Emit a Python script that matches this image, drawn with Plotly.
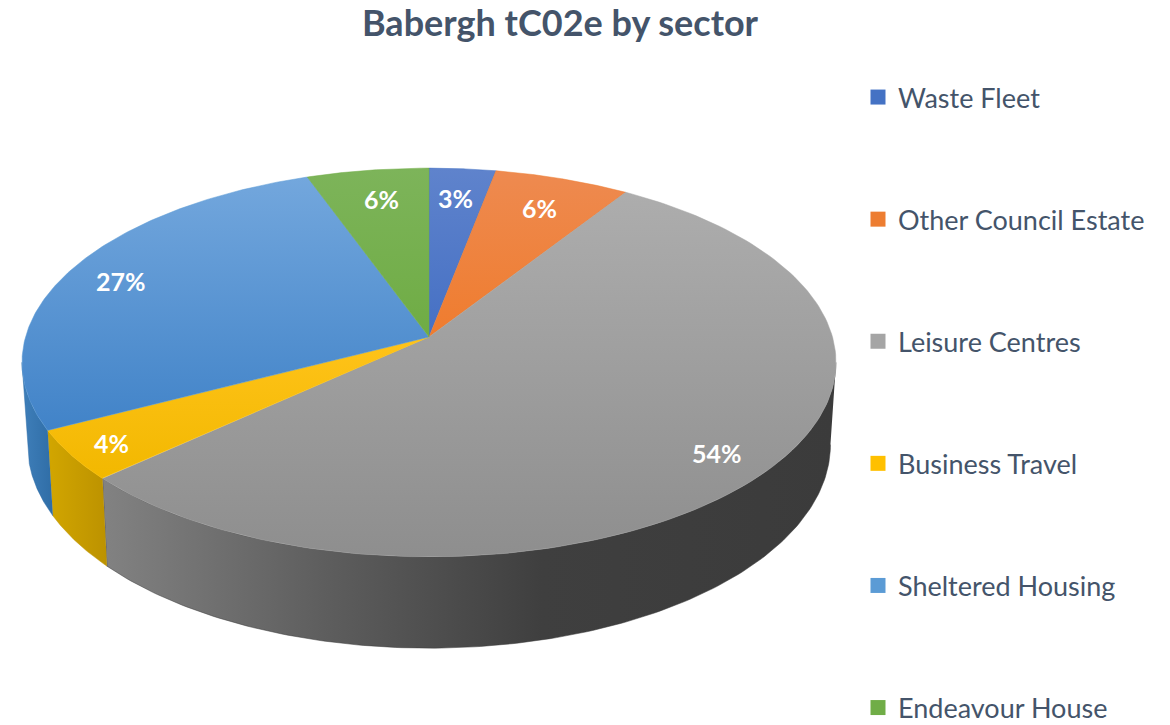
import numpy as np
import plotly.graph_objects as go

# ---- data ----
categories = ["Waste Fleet", "Other Council Estate", "Leisure Centres",
              "Business Travel", "Sheltered Housing", "Endeavour House"]
shares = [3.0, 6.1, 54.1, 4.2, 27.1, 5.5]
title_text = "Babergh tC02e by sector"

# ---- styles ----
legend_colors = ["#4472C4", "#ED7D31", "#A5A5A5", "#FFC000", "#5B9BD5", "#70AD47"]
top_shades = [
    ["#5F83CC", "#4570C4"],
    ["#EE8A50", "#EF7C2E"],
    ["#ADADAD", "#8E8E8E"],
    ["#FFC31A", "#F2B800"],
    ["#73A7DD", "#4183C8"],
    ["#7DB45A", "#6FAC44"],
]
wall_shades = {
    2: [[0, "#828282"], [0.3, "#5E5E5E"], [0.6, "#3F3F3F"], [1, "#3B3B3B"]],
    3: [[0, "#D2A600"], [1, "#BC9200"]],
    4: [[0, "#3F7FBA"], [1, "#2F6DA6"]],
}
label_x = [455, 539, 717, 111, 121, 381]
label_y = [198, 208, 453, 443, 281, 199]
text_color = "#44546A"

# ---- perspective disc model (plot units are pixels of the canvas) ----
CX = 429
TOP = dict(y0=337, a=403.5, b=191, k=0.131)
BOT = dict(y0=418, a=398, b=200, k=0.131)


def project(theta, d):
    u, v = np.sin(theta), np.cos(theta)
    w = 1 + d["k"] * v
    return CX + d["a"] * u / w, d["y0"] - d["b"] * v / w


edges = np.concatenate([[0], np.cumsum(shares)]) / np.sum(shares) * 2 * np.pi
vis_lo = np.pi / 2 + TOP["k"]
vis_hi = 3 * np.pi / 2 - TOP["k"]

fig = go.Figure()

# side walls (only the part of the rim that faces the viewer)
for i in wall_shades:
    lo, hi = max(edges[i], vis_lo), min(edges[i + 1], vis_hi)
    t = np.linspace(lo, hi, 160)
    xt, yt = project(t, TOP)
    xb, yb = project(t[::-1], BOT)
    fig.add_trace(go.Scatter(
        x=np.concatenate([xt, xb]), y=np.concatenate([yt, yb]),
        mode="lines", fill="toself", line=dict(width=0.5, color=wall_shades[i][-1][1]),
        fillgradient=dict(type="horizontal", colorscale=wall_shades[i]),
        showlegend=False, hoverinfo="skip"))

# top face slices
for i, name in enumerate(categories):
    t = np.linspace(edges[i], edges[i + 1], 160)
    xt, yt = project(t, TOP)
    x = np.concatenate([[CX], xt, [CX]])
    y = np.concatenate([[TOP["y0"]], yt, [TOP["y0"]]])
    fig.add_trace(go.Scatter(
        x=x, y=y, mode="lines", fill="toself",
        line=dict(width=0.5, color=legend_colors[i]),
        fillgradient=dict(type="vertical",
                          colorscale=[[0, top_shades[i][1]], [1, top_shades[i][0]]]),
        name=name, showlegend=False, hoverinfo="name"))

# legend entries
for i, name in enumerate(categories):
    fig.add_trace(go.Scatter(
        x=[None], y=[None], mode="markers", name=name, legendgroup=name,
        marker=dict(symbol="square", size=15, color=legend_colors[i])))

# percentage labels
for s, lx, ly in zip(shares, label_x, label_y):
    fig.add_annotation(x=lx, y=ly, text=f"{round(s)}%", showarrow=False,
                       font=dict(family="Lato", size=25, color="white", weight="bold"))

fig.update_layout(
    width=1170, height=725,
    margin=dict(l=0, r=0, t=0, b=0, autoexpand=False),
    paper_bgcolor="white", plot_bgcolor="white",
    xaxis=dict(range=[0, 1170], visible=False, fixedrange=True),
    yaxis=dict(range=[725, 0], visible=False, fixedrange=True),
    title=dict(text=title_text, x=560 / 1170, xanchor="center", y=1 - 23 / 725, yanchor="middle",
               font=dict(family="Lato", size=36, color=text_color, weight="bold")),
    legend=dict(x=858 / 1170, xanchor="left", y=1 - 73 / 725, yanchor="top",
                xref="container", yref="container",
                font=dict(family="Lato", size=27, color=text_color),
                tracegroupgap=84, traceorder="grouped", itemclick=False, itemdoubleclick=False,
                maxheight=720, bgcolor="rgba(0,0,0,0)"),
)
fig.write_html("out.html", config=dict(displayModeBar=False),
               post_script="document.body.style.margin='0';document.body.style.overflow='hidden';")
